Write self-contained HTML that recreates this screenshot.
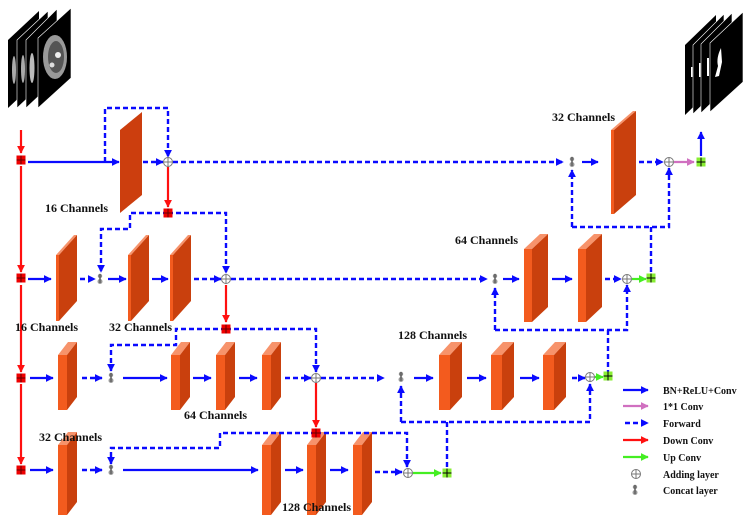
<!DOCTYPE html>
<html><head><meta charset="utf-8"><style>
html,body{margin:0;padding:0;background:#fff;}
svg{display:block;}
text{font-family:"Liberation Serif",serif;font-weight:bold;font-size:12px;fill:#111;}
</style></head><body>
<svg width="749" height="521" viewBox="0 0 749 521" xmlns="http://www.w3.org/2000/svg">
<defs>
<marker id="mb" viewBox="0 0 10 10" refX="9" refY="5" markerWidth="8" markerHeight="8" markerUnits="userSpaceOnUse" orient="auto"><path d="M0,0 L10,5 L0,10 z" fill="#0a0aff"/></marker>
<marker id="mr" viewBox="0 0 10 10" refX="9" refY="5" markerWidth="8" markerHeight="8" markerUnits="userSpaceOnUse" orient="auto"><path d="M0,0 L10,5 L0,10 z" fill="#ff1010"/></marker>
<marker id="mg" viewBox="0 0 10 10" refX="9" refY="5" markerWidth="8" markerHeight="8" markerUnits="userSpaceOnUse" orient="auto"><path d="M0,0 L10,5 L0,10 z" fill="#44ee22"/></marker>
<marker id="mp" viewBox="0 0 10 10" refX="9" refY="5" markerWidth="8" markerHeight="8" markerUnits="userSpaceOnUse" orient="auto"><path d="M0,0 L10,5 L0,10 z" fill="#d070c0"/></marker>
<g id="slab2">
<polygon points="0,255 18,235 21,235 3,255" fill="#f7936b"/>
<rect x="0" y="255" width="3" height="66" fill="#f35b1e"/>
<polygon points="3,255 21,235 21,301 3,321" fill="#c9400d"/>
</g>
<g id="b2r">
<polygon points="0,249 16,234 24,234 8,249" fill="#f7936b"/>
<rect x="0" y="249" width="8" height="73" fill="#f35b1e"/>
<polygon points="8,249 24,234 24,307 8,322" fill="#c9400d"/>
</g>
<g id="b3">
<polygon points="0,355 10,342 19,342 9,355" fill="#f7936b"/>
<rect x="0" y="355" width="9" height="55" fill="#f35b1e"/>
<polygon points="9,355 19,342 19,397 9,410" fill="#c9400d"/>
</g>
<g id="b3r">
<polygon points="0,355 12,342 23,342 11,355" fill="#f7936b"/>
<rect x="0" y="355" width="11" height="55" fill="#f35b1e"/>
<polygon points="11,355 23,342 23,397 11,410" fill="#c9400d"/>
</g>
<g id="b4">
<polygon points="0,445 10,432 19,432 9,445" fill="#f7936b"/>
<rect x="0" y="445" width="9" height="70" fill="#f35b1e"/>
<polygon points="9,445 19,432 19,502 9,515" fill="#c9400d"/>
</g>
<g id="cat">
<circle cx="0" cy="-3" r="2.2" fill="#888"/>
<circle cx="0" cy="2.5" r="2.5" fill="#999"/>
<rect x="-0.8" y="-5" width="1.6" height="9" fill="#666"/>
</g>
<g id="add">
<circle cx="0" cy="0" r="4.5" fill="#fff" stroke="#777" stroke-width="1"/>
<path d="M-4.5 0 H4.5 M0 -4.5 V4.5" stroke="#777" stroke-width="1"/>
</g>
<g id="rsq"><rect x="-4.5" y="-4.5" width="9" height="9" fill="#ee0000"/><path d="M-4.5 0 H4.5 M0 -4.5 V4.5" stroke="#600" stroke-width="1"/></g>
<g id="gsq"><rect x="-4.5" y="-4.5" width="9" height="9" fill="#88ee33"/><path d="M-4.5 0 H4.5 M0 -4.5 V4.5" stroke="#000" stroke-width="1"/></g>
</defs>

<!-- input image stack -->
<g>
<polygon points="8,40 39,11 39,79 8,108" fill="#000"/>
<polygon points="17,40 48,11 48,79 17,108" fill="#000" stroke="#fff" stroke-width="0.6"/>
<polygon points="26,40 57,9 57,79 26,108" fill="#000" stroke="#fff" stroke-width="0.6"/>
<polygon points="38,38 71,8 71,78 38,108" fill="#000" stroke="#fff" stroke-width="0.6"/>
<ellipse cx="14" cy="70" rx="2" ry="14" fill="#aaa"/>
<ellipse cx="23" cy="69" rx="2" ry="14" fill="#aaa"/>
<ellipse cx="32" cy="68" rx="2.5" ry="15" fill="#bbb"/>
<ellipse cx="55" cy="57" rx="12" ry="22" fill="#999"/>
<ellipse cx="56" cy="57" rx="8" ry="16" fill="#555"/>
<circle cx="58" cy="55" r="3" fill="#eee"/><circle cx="52" cy="65" r="2.5" fill="#ddd"/>
</g>
<!-- output stack -->
<g>
<polygon points="685,45 716,15 716,85 685,115" fill="#000"/>
<polygon points="693,45 724,14 724,84 693,114" fill="#000" stroke="#fff" stroke-width="0.6"/>
<polygon points="701,44 732,13 732,83 701,113" fill="#000" stroke="#fff" stroke-width="0.6"/>
<polygon points="710,43 743,12 743,82 710,112" fill="#000" stroke="#fff" stroke-width="0.6"/>
<rect x="691" y="67" width="1.5" height="10" fill="#fff"/>
<rect x="699" y="63" width="1.5" height="14" fill="#fff"/>
<rect x="707" y="58" width="2" height="18" fill="#fff"/>
<path d="M721 48 Q716 58 718 66 L715 77 L719 76 L722 62 Z" fill="#fff"/>
</g>

<!-- slabs row1 -->
<polygon points="120,130 142,112 142,195 120,213" fill="#cc3e0e"/>
<polygon points="611,130 633,111 636,111 614,130" fill="#f7936b"/>
<rect x="611" y="130" width="3" height="84" fill="#f35b1e"/>
<polygon points="614,130 636,111 636,195 614,214" fill="#c9400d"/>

<!-- row2 blocks -->
<use href="#slab2" x="56"/>
<use href="#slab2" x="128"/>
<use href="#slab2" x="170"/>
<use href="#b2r" x="524"/>
<use href="#b2r" x="578"/>
<!-- row3 -->
<use href="#b3" x="58"/>
<use href="#b3" x="171"/>
<use href="#b3" x="216"/>
<use href="#b3" x="262"/>
<use href="#b3r" x="439"/>
<use href="#b3r" x="491"/>
<use href="#b3r" x="543"/>
<!-- row4 -->
<use href="#b4" x="58"/>
<use href="#b4" x="262"/>
<use href="#b4" x="307"/>
<use href="#b4" x="353"/>

<!-- red lines -->
<g stroke="#ff1010" stroke-width="2.2" fill="none" marker-end="url(#mr)">
<path d="M21 130 V153"/>
<path d="M21 166 V272"/>
<path d="M21 285 V372"/>
<path d="M21 384 V464"/>
<path d="M168 167 V207"/>
<path d="M226 285 V322"/>
<path d="M316 383 V427"/>
</g>

<!-- solid blue -->
<g stroke="#0a0aff" stroke-width="2.2" fill="none" marker-end="url(#mb)">
<path d="M28 162 H119"/>
<path d="M582 162 H598"/>
<path d="M701 156 V132"/>
<path d="M28 279 H51"/>
<path d="M108 279 H126"/>
<path d="M152 279 H168"/>
<path d="M503 279 H519"/>
<path d="M552 279 H572"/>
<path d="M30 378 H53"/>
<path d="M123 378 H167"/>
<path d="M193 378 H211"/>
<path d="M239 378 H257"/>
<path d="M414 378 H433"/>
<path d="M467 378 H486"/>
<path d="M520 378 H539"/>
<path d="M30 470 H53"/>
<path d="M123 470 H258"/>
<path d="M285 470 H303"/>
<path d="M330 470 H348"/>
<path d="M623 390 H648"/>
</g>

<!-- dashed blue -->
<g stroke="#0a0aff" stroke-width="2.4" fill="none" stroke-dasharray="5,3">
<path d="M105 162 V108 H168 V157" marker-end="url(#mb)"/>
<path d="M143 162 H163" marker-end="url(#mb)"/>
<path d="M173 162 H563" marker-end="url(#mb)"/>
<path d="M639 162 H663" marker-end="url(#mb)"/>
<path d="M572 227 V170" marker-end="url(#mb)"/>
<path d="M572 227 H669 V168" marker-end="url(#mb)"/>
<path d="M651 227 V273"/>
<path d="M168 213 H226 V273" marker-end="url(#mb)"/>
<path d="M168 213 H130 V229 H101 V272" marker-end="url(#mb)"/>
<path d="M80 279 H95" marker-end="url(#mb)"/>
<path d="M194 279 H221" marker-end="url(#mb)"/>
<path d="M231 279 H487" marker-end="url(#mb)"/>
<path d="M605 279 H621" marker-end="url(#mb)"/>
<path d="M495 330 V288" marker-end="url(#mb)"/>
<path d="M495 330 H627 V285" marker-end="url(#mb)"/>
<path d="M608 330 V372"/>
<path d="M226 329 H316 V372" marker-end="url(#mb)"/>
<path d="M226 329 H176 V345 H111 V371" marker-end="url(#mb)"/>
<path d="M82 378 H102" marker-end="url(#mb)"/>
<path d="M285 378 H311" marker-end="url(#mb)"/>
<path d="M321 378 H384" marker-end="url(#mb)"/>
<path d="M572 378 H585" marker-end="url(#mb)"/>
<path d="M401 422 V386" marker-end="url(#mb)"/>
<path d="M401 422 H590 V384" marker-end="url(#mb)"/>
<path d="M447 422 V468"/>
<path d="M316 433 H407 V467" marker-end="url(#mb)"/>
<path d="M316 433 H220 V448 H111 V464" marker-end="url(#mb)"/>
<path d="M82 470 H102" marker-end="url(#mb)"/>
<path d="M375 472 H402" marker-end="url(#mb)"/>
<path d="M625 423 H648" marker-end="url(#mb)"/>
</g>

<!-- green and pink -->
<g stroke="#44ee22" stroke-width="2.2" fill="none" marker-end="url(#mg)">
<path d="M632 279 H646"/>
<path d="M595 377 H603"/>
<path d="M413 473 H441"/>
<path d="M623 457 H648"/>
</g>
<g stroke="#d070c0" stroke-width="2.2" fill="none" marker-end="url(#mp)">
<path d="M674 162 H694"/>
<path d="M623 406 H648"/>
</g>
<g stroke="#ff1010" stroke-width="2.2" fill="none" marker-end="url(#mr)">
<path d="M623 440 H648"/>
</g>

<!-- symbols -->
<use href="#rsq" x="21" y="160"/>
<use href="#rsq" x="21" y="278"/>
<use href="#rsq" x="21" y="378"/>
<use href="#rsq" x="21" y="470"/>
<use href="#rsq" x="168" y="213"/>
<use href="#rsq" x="226" y="329"/>
<use href="#rsq" x="316" y="433"/>
<use href="#add" x="168" y="162"/>
<use href="#add" x="669" y="162"/>
<use href="#add" x="226" y="279"/>
<use href="#add" x="627" y="279"/>
<use href="#add" x="316" y="378"/>
<use href="#add" x="590" y="377"/>
<use href="#add" x="408" y="473"/>
<use href="#cat" x="572" y="162"/>
<use href="#cat" x="100" y="279"/>
<use href="#cat" x="495" y="279"/>
<use href="#cat" x="111" y="378"/>
<use href="#cat" x="401" y="377"/>
<use href="#cat" x="111" y="470"/>
<use href="#gsq" x="701" y="162"/>
<use href="#gsq" x="651" y="278"/>
<use href="#gsq" x="608" y="376"/>
<use href="#gsq" x="447" y="473"/>
<use href="#add" x="636" y="474"/>
<use href="#cat" x="635" y="490"/>

<!-- labels -->
<text x="45" y="212">16 Channels</text>
<text x="552" y="121">32 Channels</text>
<text x="455" y="244">64 Channels</text>
<text x="15" y="331">16 Channels</text>
<text x="109" y="331">32 Channels</text>
<text x="398" y="339">128 Channels</text>
<text x="184" y="419">64 Channels</text>
<text x="39" y="441">32 Channels</text>
<text x="282" y="511">128 Channels</text>

<g style="font-size:10px">
<text x="663" y="394" style="font-size:10px">BN+ReLU+Conv</text>
<text x="663" y="410" style="font-size:10px">1*1 Conv</text>
<text x="663" y="427" style="font-size:10px">Forward</text>
<text x="663" y="444" style="font-size:10px">Down Conv</text>
<text x="663" y="461" style="font-size:10px">Up Conv</text>
<text x="663" y="478" style="font-size:10px">Adding layer</text>
<text x="663" y="494" style="font-size:10px">Concat layer</text>
</g>
</svg>
</body></html>
